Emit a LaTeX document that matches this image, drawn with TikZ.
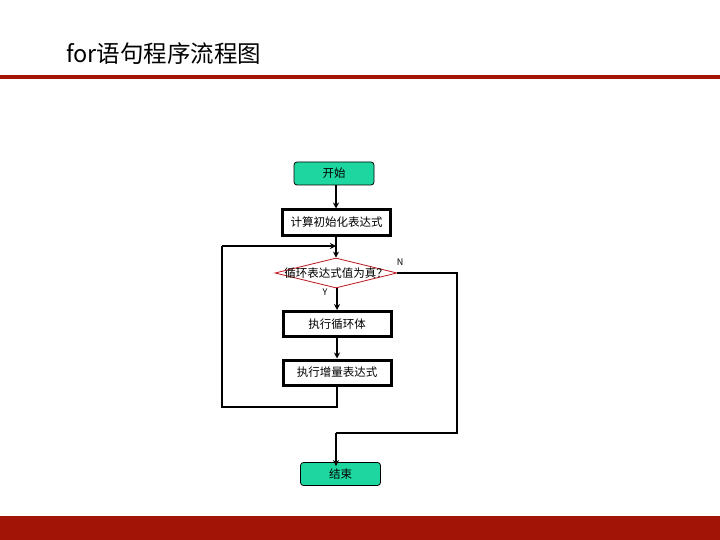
\documentclass[tikz,border=0pt]{standalone}
\usepackage{fontspec}
\setmainfont{Noto Sans CJK SC}
\usetikzlibrary{shapes.geometric,arrows.meta}
\definecolor{barred}{RGB}{162,20,6}
\definecolor{termgreen}{RGB}{30,215,160}
\definecolor{diared}{RGB}{190,20,30}
\tikzset{
  term/.style={draw=black, line width=0.8pt, fill=termgreen, rounded corners=3pt, minimum width=80pt, minimum height=23pt, inner sep=0pt, font=\fontsize{11.5}{12}\selectfont},
  procbox/.style={draw=black, line width=3pt, fill=white, minimum width=108pt, minimum height=25pt, inner sep=0pt, font=\fontsize{11.5}{12}\selectfont},
  decis/.style={diamond, draw=diared, line width=0.8pt, fill=white, minimum width=122pt, minimum height=30pt, inner sep=0pt},
  flow/.style={line width=2pt, -{Stealth[length=6pt,width=6pt]}},
  flowline/.style={line width=2pt},
  yn/.style={font=\fontsize{9}{10}\selectfont}
}
\begin{document}
\begin{tikzpicture}[x=1pt,y=-1pt]
\useasboundingbox (0,0) rectangle (720,540);
% title and bars
\node[anchor=west, inner sep=0pt, font=\fontsize{23.5}{25}\selectfont] (title) at (66,54) {for语句程序流程图};
\fill[barred] (0,75) rectangle (720,79);
\fill[barred] (0,516) rectangle (720,540);
% nodes
\node[term] (start) at (334,173.5) {开始};
\node[procbox] (init) at (336.5,222.5) {计算初始化表达式};
\node[decis, label={[font=\fontsize{11.5}{12}\selectfont]center:循环表达式值为真？}] (cond) at (336,273) {};
\node[procbox] (body) at (337,324) {执行循环体};
\node[procbox] (incr) at (337,372.5) {执行增量表达式};
\node[term] (stop) at (340.5,474) {结束};
\node[yn] (nlab) at (400,262) {N};
\node[yn] (ylab) at (325,292) {Y};
% helper coordinates
\coordinate (join) at (336,246);
\coordinate (lb) at (222,407);
\coordinate (nr) at (457,273);
\coordinate (nb) at (336,433);
% connectors
\draw[flow] (start.south -| join) -- (init.north -| join);
\draw[flow] (init.south -| join) -- (cond.north);
\draw[flow] (body.north |- cond.south) -- (body.north);
\draw[flow] (body.south) -- (incr.north);
\draw[flowline] (incr.south) -- (incr.south |- lb) -- (lb) -- (lb |- join);
\draw[flow] (lb |- join) -- (join);
\draw[flowline] (cond.east) -- (nr) |- (nb);
\draw[flow] (nb) -- (nb |- stop.north) -- ++(0,4);
\end{tikzpicture}
\end{document}
